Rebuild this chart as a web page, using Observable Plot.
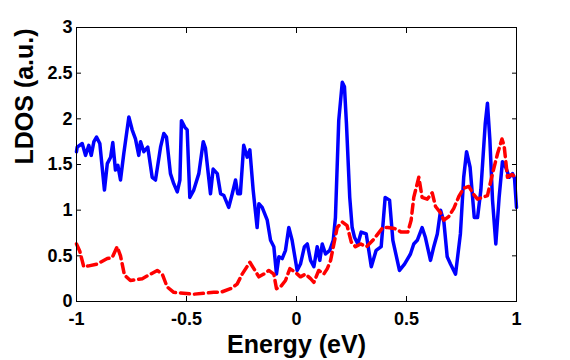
<!DOCTYPE html>
<html>
<head>
<meta charset="utf-8">
<script src="https://cdn.jsdelivr.net/npm/d3@7"></script>
<script src="https://cdn.jsdelivr.net/npm/@observablehq/plot@0.6"></script>
<style>
  html, body { margin: 0; padding: 0; background: #fff; }
  #chart svg { display: block; }
</style>
</head>
<body>
<div id="chart"></div>
<script>
// Energy (eV) and LDOS values, blue solid curve
const blueE = [-1.000,-0.997,-0.974,-0.959,-0.944,-0.933,-0.921,-0.909,-0.894,-0.873,-0.860,-0.845,-0.835,-0.823,-0.812,-0.800,-0.785,-0.762,-0.747,-0.732,-0.717,-0.709,-0.694,-0.676,-0.656,-0.641,-0.618,-0.603,-0.591,-0.573,-0.558,-0.542,-0.530,-0.523,-0.508,-0.497,-0.485,-0.467,-0.444,-0.424,-0.414,-0.391,-0.379,-0.360,-0.345,-0.330,-0.308,-0.292,-0.277,-0.267,-0.255,-0.240,-0.224,-0.212,-0.197,-0.179,-0.171,-0.156,-0.133,-0.118,-0.103,-0.091,-0.080,-0.065,-0.050,-0.035,-0.020,0.003,0.018,0.036,0.049,0.064,0.079,0.094,0.106,0.117,0.132,0.151,0.167,0.177,0.192,0.208,0.218,0.227,0.242,0.253,0.264,0.279,0.294,0.317,0.340,0.362,0.385,0.403,0.423,0.438,0.468,0.491,0.518,0.533,0.549,0.571,0.586,0.609,0.624,0.640,0.655,0.670,0.685,0.700,0.723,0.745,0.760,0.773,0.789,0.808,0.823,0.838,0.858,0.868,0.879,0.891,0.906,0.921,0.936,0.951,0.967,0.982,0.991,1.000];
const blueLDOS = [1.64,1.69,1.73,1.60,1.71,1.60,1.75,1.80,1.73,1.22,1.51,1.58,1.74,1.44,1.49,1.33,1.62,2.02,1.88,1.78,1.60,1.75,1.64,1.69,1.36,1.33,1.69,1.84,1.80,1.40,1.29,1.20,1.33,1.98,1.91,1.88,1.14,1.22,1.40,1.75,1.68,1.18,1.45,1.40,1.18,1.16,1.03,1.18,1.33,1.18,1.18,1.71,1.58,1.66,1.22,0.81,1.07,1.03,0.89,0.67,0.60,0.30,0.49,0.47,0.56,0.81,0.67,0.34,0.41,0.60,0.63,0.45,0.38,0.60,0.45,0.63,0.52,0.56,0.67,0.92,1.98,2.40,2.35,1.95,1.14,0.81,0.70,0.63,0.76,0.74,0.38,0.56,0.60,1.14,1.11,0.67,0.34,0.41,0.52,0.63,0.67,0.81,0.70,0.45,0.60,0.74,1.00,0.87,0.49,0.41,0.30,0.74,1.36,1.64,1.47,0.92,0.92,1.22,1.95,2.17,1.77,1.11,0.63,1.14,1.53,1.47,1.36,1.40,1.35,1.03];

// red dashed curve
const redE = [-1.000,-0.985,-0.967,-0.944,-0.906,-0.860,-0.838,-0.815,-0.800,-0.782,-0.755,-0.701,-0.671,-0.633,-0.610,-0.588,-0.558,-0.467,-0.376,-0.345,-0.300,-0.270,-0.247,-0.212,-0.194,-0.171,-0.149,-0.126,-0.103,-0.091,-0.073,-0.050,-0.030,-0.005,0.018,0.041,0.064,0.079,0.101,0.124,0.140,0.155,0.170,0.185,0.208,0.230,0.249,0.268,0.291,0.318,0.347,0.370,0.392,0.415,0.445,0.476,0.506,0.521,0.533,0.556,0.571,0.594,0.617,0.632,0.655,0.670,0.692,0.715,0.738,0.760,0.783,0.806,0.823,0.845,0.868,0.891,0.914,0.934,0.944,0.959,0.980,1.000];
const redLDOS = [0.63,0.55,0.38,0.39,0.41,0.47,0.48,0.60,0.50,0.29,0.23,0.25,0.29,0.34,0.30,0.16,0.10,0.08,0.10,0.10,0.14,0.19,0.30,0.43,0.36,0.27,0.30,0.34,0.30,0.14,0.16,0.23,0.36,0.32,0.27,0.30,0.25,0.21,0.34,0.30,0.36,0.45,0.63,0.81,0.87,0.83,0.65,0.60,0.63,0.60,0.67,0.74,0.81,0.81,0.80,0.76,0.76,0.89,1.14,1.36,1.14,1.12,1.19,1.04,0.97,0.89,0.93,1.02,1.15,1.24,1.26,1.17,1.12,1.14,1.16,1.40,1.62,1.78,1.70,1.36,1.39,1.35];

const xTicks = [-1, -0.5, 0, 0.5, 1];
const yTicks = [0, 0.5, 1, 1.5, 2, 2.5, 3];
const xLabel = "Energy (eV)";
const yLabel = "LDOS (a.u.)";

const blue = blueE.map((e, i) => ({e, v: blueLDOS[i]}));
const red = redE.map((e, i) => ({e, v: redLDOS[i]}));
const fmt = d => String(d);

const chart = Plot.plot({
  width: 570,
  height: 360,
  marginLeft: 76,
  marginRight: 54,
  marginTop: 27,
  marginBottom: 59,
  style: {fontFamily: "'Liberation Sans', Arial, sans-serif", fontWeight: "bold", background: "#fff", color: "#000"},
  x: {domain: [-1, 1]},
  y: {domain: [0, 3]},
  marks: [
    Plot.axisX(xTicks, {anchor: "bottom", tickSize: -5, tickPadding: 16, tickFormat: fmt, fontSize: 18, fontWeight: "bold", label: null}),
    Plot.axisX(xTicks, {anchor: "top", tickSize: -5, tickFormat: null, text: null, label: null}),
    Plot.axisY(yTicks, {anchor: "left", tickSize: -5, tickPadding: 9, tickFormat: fmt, fontSize: 18, fontWeight: "bold", label: null}),
    Plot.axisY(yTicks, {anchor: "right", tickSize: -5, tickFormat: null, text: null, label: null}),
    Plot.line(blue, {x: "e", y: "v", stroke: "#0000ff", strokeWidth: 3.5, strokeLinejoin: "round"}),
    Plot.line(red, {x: "e", y: "v", stroke: "#ff0000", strokeWidth: 3.5, strokeDasharray: "9,5"}),
    Plot.frame({stroke: "#000", strokeWidth: 1}),
    Plot.text([xLabel], {frameAnchor: "bottom", dy: 51, fontSize: 25, fontWeight: "bold", fill: "#000"}),
    Plot.text([yLabel], {frameAnchor: "left", dx: -52, rotate: -90, fontSize: 25, fontWeight: "bold", fill: "#000"})
  ]
});
document.getElementById("chart").appendChild(chart);
</script>
</body>
</html>
